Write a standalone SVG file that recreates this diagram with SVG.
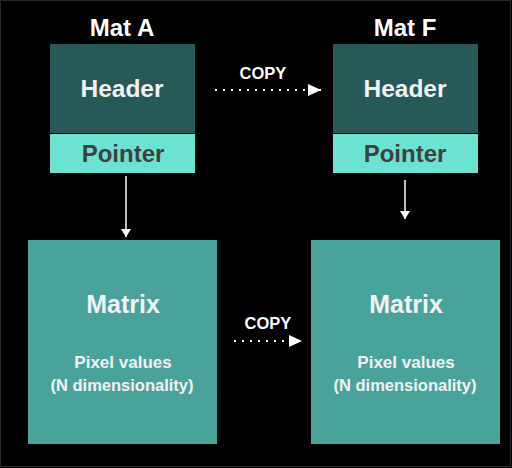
<svg xmlns="http://www.w3.org/2000/svg" width="512" height="468" viewBox="0 0 512 468">
<style>
  text { font-family: "Liberation Sans", Arial, sans-serif; font-weight: bold; text-anchor: middle; }
  .title { font-size: 24px; fill: #ffffff; }
  .hdr { fill: #265957; }
  .ptr { fill: #6ce3d0; }
  .mat { fill: #4aa39b; }
  .hdrt { font-size: 24.5px; fill: #f2f2f2; }
  .ptrt { font-size: 24px; fill: #404040; }
  .matt { font-size: 25px; fill: #f2f2f2; }
  .sub { font-size: 17px; fill: #f2f2f2; }
  .sub2 { font-size: 16.5px; fill: #f2f2f2; }
  .copy { font-size: 16.5px; fill: #ffffff; }
  .solid { stroke: #ffffff; stroke-width: 1.5; fill: none; }
  .dots { stroke: #ffffff; stroke-width: 2; fill: none; stroke-dasharray: 2 6; }
</style>
<defs>
  <marker id="ah" markerWidth="8" markerHeight="10" refX="8" refY="5" orient="auto" markerUnits="userSpaceOnUse">
    <path d="M0,0 L8,5 L0,10 Z" fill="#ffffff"/>
  </marker>
  <marker id="ahl" markerWidth="13" markerHeight="12" refX="13" refY="6" orient="auto" markerUnits="userSpaceOnUse">
    <path d="M0,0 L13,6 L0,12 Z" fill="#ffffff"/>
  </marker>
</defs>
<rect x="0" y="0" width="512" height="468" fill="#000000"/>
<rect x="0.5" y="0.5" width="510" height="466" fill="none" stroke="#2a2a2a" stroke-width="1"/>

<g id="matA">
  <text class="title" x="122" y="36">Mat A</text>
  <rect class="hdr" x="50" y="44" width="145" height="89"/>
  <text class="hdrt" x="122" y="97">Header</text>
  <rect class="ptr" x="50" y="134" width="145" height="39"/>
  <text class="ptrt" x="123" y="162">Pointer</text>
</g>

<g id="matF">
  <text class="title" x="405" y="36">Mat F</text>
  <rect class="hdr" x="333" y="44" width="145" height="89"/>
  <text class="hdrt" x="405" y="97">Header</text>
  <rect class="ptr" x="333" y="134" width="145" height="39"/>
  <text class="ptrt" x="405" y="162">Pointer</text>
</g>

<g id="matrixA">
  <rect class="mat" x="28" y="240" width="189" height="204"/>
  <text class="matt" x="123" y="313">Matrix</text>
  <text class="sub" x="123" y="368">Pixel values</text>
  <text class="sub2" x="122" y="391">(N dimensionality)</text>
</g>

<g id="matrixF">
  <rect class="mat" x="311" y="240" width="189" height="204"/>
  <text class="matt" x="406" y="313">Matrix</text>
  <text class="sub" x="406" y="368">Pixel values</text>
  <text class="sub2" x="405" y="391">(N dimensionality)</text>
</g>

<g id="connectors">
  <line class="solid" x1="126" y1="176" x2="126" y2="237" marker-end="url(#ah)"/>
  <line class="solid" x1="405" y1="180" x2="405" y2="219" marker-end="url(#ah)"/>
  <line class="dots" x1="215" y1="90" x2="321" y2="90" marker-end="url(#ahl)"/>
  <text class="copy" x="263" y="79">COPY</text>
  <line class="dots" x1="234" y1="341" x2="302" y2="341" marker-end="url(#ahl)"/>
  <text class="copy" x="268" y="329">COPY</text>
</g>
</svg>
